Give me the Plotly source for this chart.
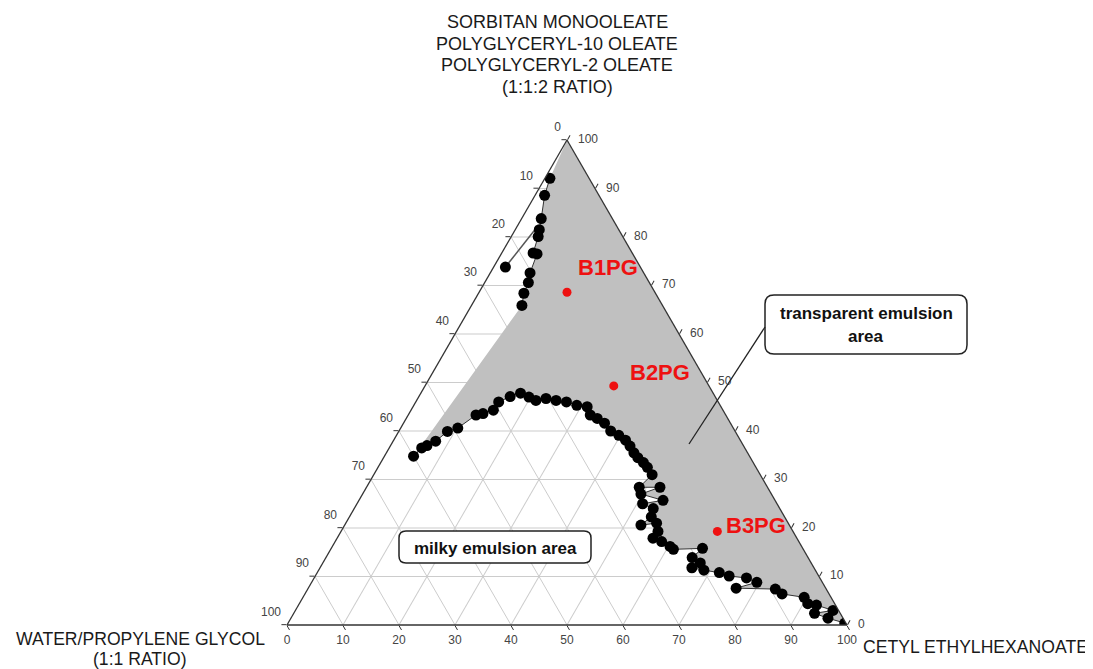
import plotly.graph_objects as go

# The page adds an 8px body margin, so the figure is drawn 8px in from the window corner.
OFF = 8
W, H = 1093 - OFF, 669 - OFF

# ---- data (percent): a = surfactant mix, c = cetyl ethylhexanoate (oil); water/PG = 100 - a - c
ul_surf = [92.1, 88.6, 83.8, 81.5, 80.1, 76.7, 76.5, 72.6, 70.6, 68.4, 65.9]
ul_oil = [0.9, 1.7, 3.5, 4.3, 4.8, 5.6, 6.4, 7.1, 7.8, 8.1, 9.0]

out_surf = [73.8, 81.9]
out_oil = [2.1, 3.6]

lo_surf = [34.8, 36.5, 37.0, 37.9, 39.9, 40.6, 43.3, 43.6, 44.3, 46.0, 47.1, 47.8,
           47.0, 46.3, 46.7, 46.3, 46.0, 45.3, 45.0, 43.3, 42.6, 41.6, 40.0, 39.1,
           38.1, 36.9, 35.5, 34.5, 33.5, 32.5, 31.0, 28.4, 28.4, 27.0, 25.7, 25.0,
           24.0, 22.3, 20.6, 21.0, 19.3, 17.9, 17.2, 16.2, 15.6, 15.8, 13.9, 12.8,
           11.8, 11.3, 10.8, 10.1, 9.7, 8.8, 7.6, 7.4, 6.4, 5.7, 4.4, 4.1, 3.0,
           2.4, 1.4, 0.4, 0.1]
lo_oil = [5.2, 5.8, 6.5, 7.6, 8.7, 10.2, 12.1, 13.2, 14.7, 14.8, 16.3, 17.8,
          19.7, 21.3, 22.9, 24.9, 26.9, 29.1, 31.1, 32.5, 34.1, 35.9, 37.8, 39.7,
          41.4, 42.8, 44.2, 45.4, 46.9, 48.1, 49.7, 48.7, 52.4, 49.7, 54.3, 51.0,
          53.4, 53.9, 52.9, 55.5, 56.6, 56.4, 58.3, 60.3, 61.2, 66.3, 65.4, 67.4,
          66.4, 68.8, 71.8, 73.9, 77.2, 79.5, 76.4, 83.5, 85.2, 89.5, 90.8, 92.5, 96.0,
          93.0, 95.9, 99.4, 99.8]

form_names = ["B1PG", "B2PG", "B3PG"]
form_surf = [68.6, 49.3, 19.3]
form_oil = [15.7, 33.7, 67.2]

tick_vals = list(range(0, 101, 10))

title_top = ["SORBITAN MONOOLEATE", "POLYGLYCERYL-10 OLEATE",
             "POLYGLYCERYL-2 OLEATE", "(1:1:2 RATIO)"]
title_left = ["WATER/PROPYLENE GLYCOL", "(1:1 RATIO)"]
title_right = "CETYL ETHYLHEXANOATE"


def px(x):
    """window pixel x -> paper coordinate"""
    return (x - OFF) / W


def py(y):
    """window pixel y -> paper coordinate"""
    return 1 - (y - OFF) / H


fig = go.Figure()

# transparent emulsion region (fill)
fig.add_trace(go.Scatterternary(
    a=[100] + ul_surf + lo_surf + [0],
    c=[0] + ul_oil + lo_oil + [100],
    mode="lines", fill="toself", fillcolor="#c0c0c0",
    line=dict(width=0, color="#c0c0c0"), hoverinfo="skip", showlegend=False,
))

# boundary points
fig.add_trace(go.Scatterternary(
    a=out_surf, c=out_oil, mode="lines",
    line=dict(color="#555555", width=1.5), showlegend=False,
))
fig.add_trace(go.Scatterternary(
    a=out_surf[:1], c=out_oil[:1], mode="markers",
    marker=dict(color="black", size=11), showlegend=False,
))
fig.add_trace(go.Scatterternary(
    a=ul_surf, c=ul_oil, mode="lines+markers",
    line=dict(color="#333333", width=1),
    marker=dict(color="black", size=11), showlegend=False,
))
fig.add_trace(go.Scatterternary(
    a=lo_surf, c=lo_oil, mode="lines+markers",
    line=dict(color="#333333", width=1),
    marker=dict(color="black", size=11), showlegend=False,
))

# formulations
fig.add_trace(go.Scatterternary(
    a=form_surf, c=form_oil, mode="markers",
    marker=dict(color="#ee1111", size=9), showlegend=False,
))

tick_font = dict(family="Liberation Sans, Arial", size=12, color="#444444")
# left edge labels: water/PG
fig.add_trace(go.Scatterternary(
    a=[100 - v for v in tick_vals], c=[0] * len(tick_vals),
    text=[str(v) for v in tick_vals], mode="markers+text", textposition="top left",
    marker=dict(size=8, opacity=0), textfont=tick_font, cliponaxis=False,
    hoverinfo="skip", showlegend=False,
))
# bottom edge labels: oil
fig.add_trace(go.Scatterternary(
    a=[0] * len(tick_vals), c=tick_vals,
    text=[str(v) for v in tick_vals], mode="markers+text", textposition="bottom center",
    marker=dict(size=14, opacity=0), textfont=tick_font, cliponaxis=False,
    hoverinfo="skip", showlegend=False,
))
# right edge labels: surfactant
fig.add_trace(go.Scatterternary(
    a=tick_vals, c=[100 - v for v in tick_vals],
    text=[str(v) for v in tick_vals], mode="markers+text", textposition="middle right",
    marker=dict(size=16, opacity=0), textfont=tick_font, cliponaxis=False,
    hoverinfo="skip", showlegend=False,
))

axis_style = dict(
    showticklabels=False, ticks="outside", ticklen=5, tickcolor="#333333",
    linecolor="#333333", linewidth=1.3, showgrid=True, gridcolor="#cccccc",
    gridwidth=1, tick0=0, dtick=10, title=dict(text=""),
)

# triangle target in window pixels: BL (287,625), BR (847,625), top (567,140)
fig.update_layout(
    width=W, height=H,
    margin=dict(l=0, r=0, t=0, b=0),
    paper_bgcolor="white",
    ternary=dict(
        sum=100,
        domain=dict(x=[px(567) - 280 / W, px(567) + 280 / W],
                    y=[py(382.5) - 0.3672, py(382.5) + 0.3672]),
        bgcolor="white",
        aaxis=axis_style, baxis=axis_style, caxis=axis_style,
    ),
    showlegend=False,
)

ann = []
title_font = dict(family="Liberation Sans, Arial", size=18, color="#1a1a1a")
for i, t in enumerate(title_top):
    ann.append(dict(x=px(557), y=py(22 + 21.7 * i), text=t, showarrow=False,
                    xanchor="center", yanchor="middle", font=title_font))
side_font = dict(family="Liberation Sans, Arial", size=17.6, color="#1a1a1a")
ann.append(dict(x=px(140), y=py(639), text=title_left[0], showarrow=False,
                xanchor="center", yanchor="middle", font=side_font))
ann.append(dict(x=px(140), y=py(659), text=title_left[1], showarrow=False,
                xanchor="center", yanchor="middle", font=side_font))
ann.append(dict(x=px(861), y=py(647), text=title_right, showarrow=False,
                xanchor="left", yanchor="middle", font=side_font))

label_font = dict(family="Liberation Sans, Arial", size=22, color="#ee1111")
label_pos = [(576, 267), (628, 372), (724, 525)]
for name, (lx, ly) in zip(form_names, label_pos):
    ann.append(dict(x=px(lx), y=py(ly), text="<b>%s</b>" % name, showarrow=False,
                    xanchor="left", yanchor="middle", font=label_font))

box_font = dict(family="Liberation Sans, Arial", size=17, color="#111111")
ann.append(dict(x=px(866), y=py(313), text="<b>transparent emulsion</b>", showarrow=False,
                xanchor="center", yanchor="middle", font=box_font))
ann.append(dict(x=px(866), y=py(336), text="<b>area</b>", showarrow=False,
                xanchor="center", yanchor="middle", font=box_font))
ann.append(dict(x=px(495), y=py(548), text="<b>milky emulsion area</b>", showarrow=False,
                xanchor="center", yanchor="middle", font=box_font))
fig.update_layout(annotations=ann)


def rounded_rect(x0, y0, x1, y1, r):
    pts = []
    pts.append("M %f,%f" % (px(x0 + r), py(y0)))
    pts.append("L %f,%f" % (px(x1 - r), py(y0)))
    pts.append("Q %f,%f %f,%f" % (px(x1), py(y0), px(x1), py(y0 + r)))
    pts.append("L %f,%f" % (px(x1), py(y1 - r)))
    pts.append("Q %f,%f %f,%f" % (px(x1), py(y1), px(x1 - r), py(y1)))
    pts.append("L %f,%f" % (px(x0 + r), py(y1)))
    pts.append("Q %f,%f %f,%f" % (px(x0), py(y1), px(x0), py(y1 - r)))
    pts.append("L %f,%f" % (px(x0), py(y0 + r)))
    pts.append("Q %f,%f %f,%f" % (px(x0), py(y0), px(x0 + r), py(y0)))
    pts.append("Z")
    return " ".join(pts)


shapes = [
    dict(type="path", xref="paper", yref="paper",
         path=rounded_rect(765, 295, 967, 354, 9),
         line=dict(color="#222222", width=1.5), fillcolor="white", layer="below"),
    dict(type="path", xref="paper", yref="paper",
         path=rounded_rect(399, 531, 591, 563, 7),
         line=dict(color="#222222", width=1.5), fillcolor="white", layer="above"),
    dict(type="line", xref="paper", yref="paper",
         x0=px(765), y0=py(327), x1=px(689), y1=py(444),
         line=dict(color="#222222", width=1.3)),
]
fig.update_layout(shapes=shapes)

fig.write_html("out.html")
